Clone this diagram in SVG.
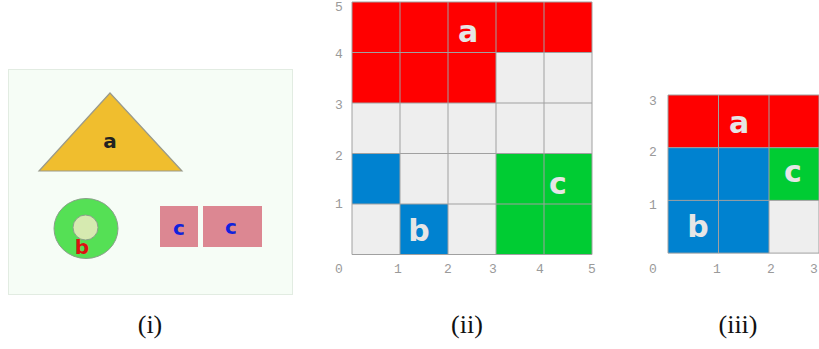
<svg xmlns="http://www.w3.org/2000/svg" width="819" height="349" viewBox="0 0 819 349">
<style>
.cap{font-family:"Liberation Serif",serif;font-size:26px;fill:#111;text-anchor:middle}
.ax{font-family:"Liberation Mono",monospace;font-size:13px;fill:#9a9a9a;text-anchor:middle}
.gl{font-family:"DejaVu Sans","Liberation Sans",sans-serif;font-weight:bold;fill:#e6e6e6;text-anchor:middle}
.sl{font-family:"DejaVu Sans","Liberation Sans",sans-serif;font-weight:bold;text-anchor:middle;font-size:20px}
.r{fill:#ff0000}.bl{fill:#0082d0}.g{fill:#00cc33}.e{fill:#eeeeee}
.grid{stroke:#a0a0a0;stroke-width:1;fill:none}
</style>
<rect width="819" height="349" fill="#ffffff"/>
<!-- panel i -->
<g id="panel-i">
<rect x="8.5" y="69.5" width="284" height="225" fill="#f6fdf6" stroke="#e2ece2"/>
<g id="triangle-a">
<polygon points="110,93 39,171 182,171" fill="#f0be2e" stroke="#9a9a8a" stroke-width="1.2"/>
<text class="sl" x="110" y="148" fill="#222">a</text>
</g>
<g id="circle-b">
<ellipse cx="86" cy="228.5" rx="32" ry="30" fill="#55e055" stroke="#8aa08a" stroke-width="1"/>
<circle cx="85.5" cy="227.5" r="12.5" fill="#d6eab0" stroke="#8aa08a" stroke-width="1"/>
<text class="sl" x="82" y="254" fill="#dd1111">b</text>
</g>
<g id="rect-c1">
<rect x="160" y="206" width="38" height="41" fill="#dc8792"/>
<text class="sl" x="179" y="235" fill="#1122dd">c</text>
</g>
<g id="rect-c2">
<rect x="203" y="206" width="59" height="41" fill="#dc8792"/>
<text class="sl" x="231" y="234" fill="#1122dd">c</text>
</g>
</g>
<!-- panel ii -->
<g id="panel-ii">
<g transform="translate(352,2)">
<rect x="0" y="0" width="240" height="50.5" class="r"/>
<rect x="0" y="50.5" width="144" height="50.5" class="r"/>
<rect x="144" y="50.5" width="96" height="50.5" class="e"/>
<rect x="0" y="101" width="240" height="50.5" class="e"/>
<rect x="0" y="151.5" width="48" height="50.5" class="bl"/>
<rect x="48" y="151.5" width="96" height="50.5" class="e"/>
<rect x="144" y="151.5" width="96" height="101" class="g"/>
<rect x="0" y="202" width="48" height="50.5" class="e"/>
<rect x="48" y="202" width="48" height="50.5" class="bl"/>
<rect x="96" y="202" width="48" height="50.5" class="e"/>
<path class="grid" d="M0,0H240V252.5H0Z M48,0V252.5 M96,0V252.5 M144,0V252.5 M192,0V252.5 M0,50.5H240 M0,101H240 M0,151.5H240 M0,202H240"/>
</g>
<text class="gl" x="468" y="42" font-size="30">a</text>
<text class="gl" x="558" y="194" font-size="30">c</text>
<text class="gl" x="419" y="241" font-size="30">b</text>
<text class="ax" x="339" y="273">0</text>
<text class="ax" x="398" y="273">1</text>
<text class="ax" x="448" y="273">2</text>
<text class="ax" x="493" y="273">3</text>
<text class="ax" x="540" y="273">4</text>
<text class="ax" x="592" y="273">5</text>
<text class="ax" x="339" y="11">5</text>
<text class="ax" x="339" y="58">4</text>
<text class="ax" x="339" y="109">3</text>
<text class="ax" x="339" y="160">2</text>
<text class="ax" x="339" y="208">1</text>
</g>
<!-- panel iii -->
<g id="panel-iii">
<g transform="translate(668,95)">
<rect x="0" y="0" width="151.5" height="52.7" class="r"/>
<rect x="0" y="52.7" width="101" height="105.4" class="bl"/>
<rect x="101" y="52.7" width="50.5" height="52.7" class="g"/>
<rect x="101" y="105.4" width="50.5" height="52.7" class="e"/>
<path class="grid" d="M0,0H151V158.1H0Z M50.5,0V158.1 M101,0V158.1 M0,52.7H151 M0,105.4H151"/>
</g>
<text class="gl" x="739" y="133" font-size="30">a</text>
<text class="gl" x="793" y="182" font-size="30">c</text>
<text class="gl" x="698" y="237" font-size="30">b</text>
<text class="ax" x="653" y="273">0</text>
<text class="ax" x="717" y="273">1</text>
<text class="ax" x="771" y="273">2</text>
<text class="ax" x="814" y="273">3</text>
<text class="ax" x="653" y="105">3</text>
<text class="ax" x="653" y="156">2</text>
<text class="ax" x="653" y="209">1</text>
</g>
<text class="cap" x="150" y="333">(i)</text>
<text class="cap" x="467" y="333">(ii)</text>
<text class="cap" x="738" y="333">(iii)</text>
</svg>
